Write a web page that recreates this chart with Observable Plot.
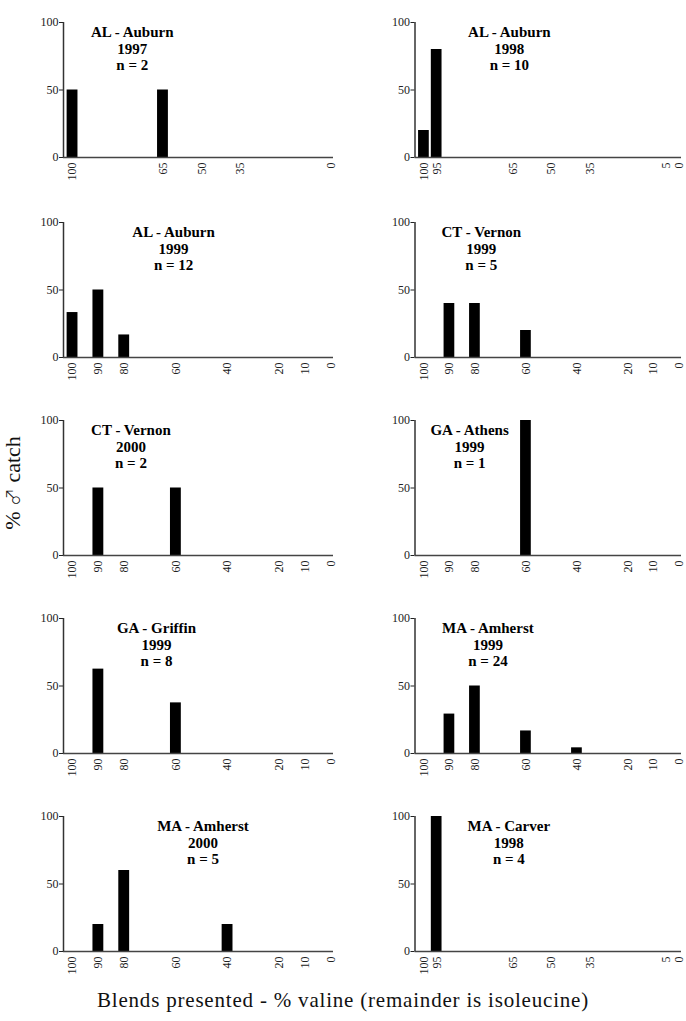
<!DOCTYPE html>
<html><head><meta charset="utf-8">
<script src="https://cdn.jsdelivr.net/npm/d3@7"></script>
<script src="https://cdn.jsdelivr.net/npm/@observablehq/plot@0.6"></script>
<style>
body{margin:0;background:#fff;}
#fig{position:relative;width:686px;height:1021px;overflow:hidden;font-family:"Liberation Serif","Times New Roman",serif;color:#111;}
.panel{position:absolute;}
#ylab{position:absolute;left:13px;top:483px;transform:translate(-50%,-50%) rotate(-90deg);font-size:22px;line-height:1;white-space:nowrap;}
#ylab .sym{font-family:"Noto Sans CJK JP","DejaVu Sans",serif;font-size:18px;font-weight:300;}
#xlab{position:absolute;left:0;width:686px;top:988px;text-align:center;font-size:21px;letter-spacing:0.8px;white-space:nowrap;}
</style></head>
<body>
<div id="fig">
  <div id="ylab">% <span class="sym">♂</span> catch</div>
  <div id="xlab">Blends presented - % valine (remainder is isoleucine)</div>
</div>
<script>
// ---- data ----
const sites = ["AL - Auburn","AL - Auburn","AL - Auburn","CT - Vernon","CT - Vernon","GA - Athens","GA - Griffin","MA - Amherst","MA - Amherst","MA - Carver"];
const years = [1997,1998,1999,1999,2000,1999,1999,1999,2000,1998];
const nCounts = [2,10,12,5,2,1,8,24,5,4];
const blends = [
  [100,65],
  [100,95],
  [100,90,80],
  [90,80,60],
  [90,60],
  [60],
  [90,60],
  [90,80,60,40],
  [90,80,40],
  [95]
];
const catchPct = [
  [50,50],
  [20,80],
  [33.3,50,16.7],
  [40,40,20],
  [50,50],
  [100],
  [62.5,37.5],
  [29.2,50,16.7,4.2],
  [20,60,20],
  [100]
];
const ticks97 = [100,65,50,35,0];
const ticks98 = [100,95,65,50,35,5,0];
const ticks99 = [100,90,80,60,40,20,10,0];
const tickSets = [ticks97,ticks98,ticks99,ticks99,ticks99,ticks99,ticks99,ticks99,ticks99,ticks98];
const yTicks = [0,50,100];

// ---- layout ----
const xDomain = [103.5,-1];
const halfBar = 2.1;
const titleX = [76.9,66.5,60.9,77.5,77.4,82.1,67.5,74.9,49.5,66.7];
const rowTops = [0,200,397.5,596.3,794];
const serif = "Liberation Serif, Times New Roman, serif";

const fig = document.getElementById("fig");
for (let i = 0; i < sites.length; i++) {
  const col = i % 2, row = Math.floor(i / 2);
  const rows = blends[i].map((b, j) => ({blend: b, pct: catchPct[i][j]}));
  const title = `${sites[i]}\n${years[i]}\nn = ${nCounts[i]}`;
  const plot = Plot.plot({
    width: 343, height: 198,
    marginLeft: col === 0 ? 63 : 71.5,
    marginRight: col === 0 ? 10 : 5,
    marginTop: 22, marginBottom: 41,
    style: {fontFamily: serif, fontSize: "12px", color: "#222", background: "transparent", overflow: "visible"},
    x: {domain: xDomain, ticks: tickSets[i], tickSize: 0, tickRotate: -90, tickPadding: 5, tickFormat: d => String(d), label: null},
    y: {domain: [0,100], ticks: yTicks, tickSize: 4, tickPadding: 1, label: null},
    marks: [
      Plot.rectY(rows, {x1: d => d.blend + halfBar, x2: d => d.blend - halfBar, y: "pct", fill: "#000"}),
      Plot.ruleY([0], {stroke: "#444", strokeWidth: 1.5}),
      Plot.ruleX([xDomain[0]], {stroke: "#333", strokeWidth: 1.5}),
      Plot.text([title], {x: () => titleX[i], frameAnchor: "top", lineAnchor: "top", dy: 3, fontWeight: "bold", fontSize: 15, lineHeight: 1.1, fill: "#000"})
    ]
  });
  const div = document.createElement("div");
  div.className = "panel";
  div.style.left = (col * 343) + "px";
  div.style.top = rowTops[row] + "px";
  div.appendChild(plot);
  fig.appendChild(div);
}
</script>
</body></html>
